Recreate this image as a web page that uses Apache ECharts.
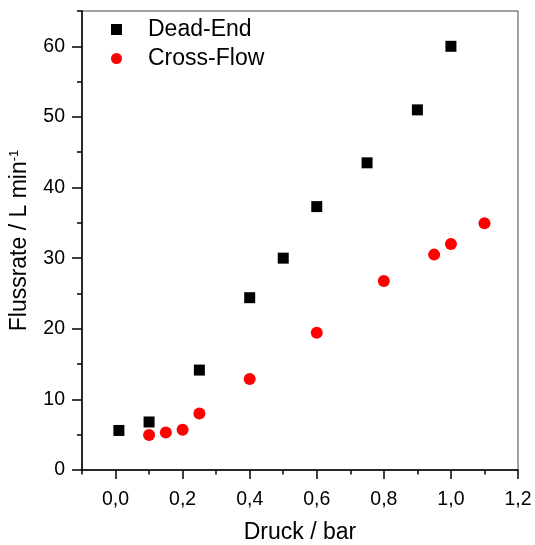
<!DOCTYPE html>
<html>
<head>
<meta charset="utf-8">
<script src="https://cdn.jsdelivr.net/npm/echarts@6/dist/echarts.min.js"></script>
<style>
html,body{margin:0;padding:0;background:#fff;}
#chart{width:535px;height:545px;}
</style>
</head>
<body>
<div id="chart"></div>
<script>
// Data
const seriesNames = ['Dead-End', 'Cross-Flow'];
const pressureDeadEnd = [0.01, 0.1, 0.25, 0.4, 0.5, 0.6, 0.75, 0.9, 1.0];
const fluxDeadEnd = [5.6, 6.8, 14.15, 24.4, 30.0, 37.3, 43.5, 51.0, 60.0];
const pressureCrossFlow = [0.1, 0.15, 0.2, 0.25, 0.4, 0.6, 0.8, 0.95, 1.0, 1.1];
const fluxCrossFlow = [4.95, 5.3, 5.7, 8.0, 12.9, 19.45, 26.75, 30.5, 32.0, 34.95];
const xMajorTicks = [0, 0.2, 0.4, 0.6, 0.8, 1.0, 1.2];
const xMinorTicks = [-0.1, 0.1, 0.3, 0.5, 0.7, 0.9, 1.1];
const yMajorTicks = [0, 10, 20, 30, 40, 50, 60];
const yMinorTicks = [5, 15, 25, 35, 45, 55, 65];

const FONT = '"Liberation Sans", Arial, sans-serif';
const zip = (xs, ys) => xs.map((x, i) => [x, ys[i]]);

const chart = echarts.init(document.getElementById('chart'), null, {renderer: 'canvas'});
const axisCommon = {
  splitLine: {show: false}
};
chart.setOption({
  animation: false,
  backgroundColor: '#fff',
  grid: {left: 82, right: 17, top: 11, bottom: 75, show: true, borderColor: '#444', borderWidth: 1,
    containLabel: false, outerBoundsMode: 'none'},
  legend: {
    orient: 'vertical', left: 106, top: 13,
    itemWidth: 11, itemHeight: 11, itemGap: 6,
    data: seriesNames,
    textStyle: {fontFamily: FONT, fontSize: 23, color: '#000', padding: [0, 0, 0, 21]}
  },
  xAxis: [{
    type: 'value', min: -0.1, max: 1.2, interval: 0.1, position: 'bottom',
    name: 'Druck / bar', nameLocation: 'middle', nameGap: 51,
    nameTextStyle: {fontFamily: FONT, fontSize: 23, color: '#000'},
    axisLine: {show: true, onZero: false, lineStyle: {color: '#000', width: 1.5}},
    axisTick: {show: true, inside: false, length: 9, customValues: xMajorTicks, lineStyle: {color: '#000', width: 1.5}},
    axisLabel: {customValues: xMajorTicks, margin: 20, fontFamily: FONT, fontSize: 19.5, color: '#000',
      formatter: v => v.toFixed(1).replace('.', ',')},
    ...axisCommon
  }, {
    type: 'value', min: -0.1, max: 1.2, interval: 0.1, position: 'bottom',
    axisLine: {show: false, onZero: false},
    axisTick: {show: true, inside: false, length: 4.5, customValues: xMinorTicks, lineStyle: {color: '#000', width: 1.5}},
    axisLabel: {show: false},
    ...axisCommon
  }],
  yAxis: [{
    type: 'value', min: 0, max: 65, interval: 10, position: 'left',
    name: 'Flussrate / L min{sup|-1}', nameLocation: 'middle', nameGap: 51, nameRotate: 90,
    nameTextStyle: {fontFamily: FONT, fontSize: 23, color: '#000',
      rich: {sup: {fontFamily: FONT, fontSize: 13, color: '#000', verticalAlign: 'top', lineHeight: 22}}},
    axisLine: {show: true, onZero: false, lineStyle: {color: '#000', width: 1.5}},
    axisTick: {show: true, inside: false, length: 10, customValues: yMajorTicks, lineStyle: {color: '#000', width: 1.5}},
    axisLabel: {customValues: yMajorTicks, margin: 17, fontFamily: FONT, fontSize: 19.5, color: '#000'},
    ...axisCommon
  }, {
    type: 'value', min: 0, max: 65, interval: 10, position: 'left',
    axisLine: {show: false, onZero: false},
    axisTick: {show: true, inside: false, length: 5, customValues: yMinorTicks, lineStyle: {color: '#000', width: 1.5}},
    axisLabel: {show: false},
    ...axisCommon
  }],
  series: [{
    name: seriesNames[0], type: 'scatter', symbol: 'rect', symbolSize: 11,
    itemStyle: {color: '#000', opacity: 1},
    data: zip(pressureDeadEnd, fluxDeadEnd)
  }, {
    name: seriesNames[1], type: 'scatter', symbol: 'circle', symbolSize: 12,
    itemStyle: {color: '#ff0000', opacity: 1},
    data: zip(pressureCrossFlow, fluxCrossFlow)
  }]
});
</script>
</body>
</html>
